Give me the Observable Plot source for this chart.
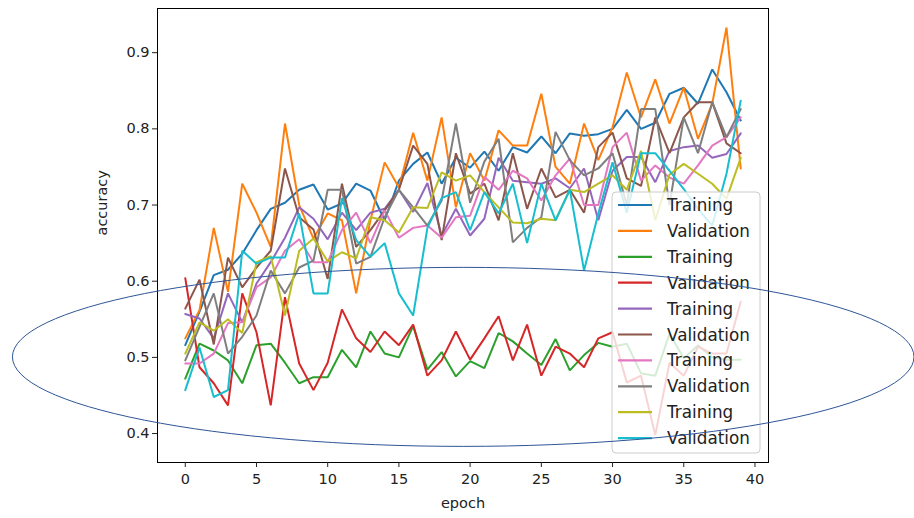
<!DOCTYPE html>
<html><head><meta charset="utf-8">
<script src="https://cdn.jsdelivr.net/npm/d3@7"></script>
<script src="https://cdn.jsdelivr.net/npm/@observablehq/plot@0.6"></script>
<style>
html,body{margin:0;padding:0;background:#fff;}
#chart{position:relative;width:914px;height:518px;overflow:hidden;}
</style>
</head><body><div id="chart"></div>
<script>
// ---- data ----
const seriesLabels = ["Training","Validation","Training","Validation","Training","Validation","Training","Validation","Training","Validation"];
const seriesColors = ["#1f77b4","#ff7f0e","#2ca02c","#d62728","#9467bd","#8c564b","#e377c2","#7f7f7f","#bcbd22","#17becf"];
const xTicks = [0,5,10,15,20,25,30,35,40];
const yTicks = [0.4,0.5,0.6,0.7,0.8,0.9];

const train1 = [0.516,0.56,0.608,0.615,0.636,0.667,0.695,0.703,0.72,0.727,0.694,0.702,0.728,0.719,0.68,0.732,0.754,0.769,0.728,0.762,0.749,0.77,0.745,0.776,0.769,0.79,0.768,0.794,0.791,0.793,0.80,0.825,0.80,0.808,0.846,0.854,0.833,0.878,0.848,0.811];
const valid1 = [0.525,0.562,0.67,0.586,0.728,0.69,0.645,0.807,0.70,0.656,0.689,0.68,0.584,0.68,0.756,0.723,0.795,0.732,0.815,0.697,0.768,0.732,0.798,0.778,0.778,0.846,0.75,0.728,0.807,0.759,0.802,0.874,0.815,0.865,0.807,0.854,0.787,0.833,0.933,0.748];
const train2 = [0.472,0.518,0.509,0.496,0.466,0.516,0.518,0.493,0.466,0.474,0.474,0.51,0.487,0.534,0.505,0.50,0.541,0.484,0.507,0.475,0.495,0.486,0.532,0.521,0.505,0.49,0.524,0.483,0.503,0.519,0.514,0.518,0.479,0.476,0.531,0.499,0.516,0.50,0.497,0.497];
const valid2 = [0.604,0.487,0.466,0.437,0.584,0.533,0.437,0.579,0.492,0.457,0.493,0.563,0.525,0.507,0.534,0.516,0.543,0.476,0.496,0.534,0.497,0.525,0.554,0.496,0.543,0.476,0.514,0.505,0.487,0.525,0.533,0.467,0.476,0.398,0.493,0.476,0.514,0.505,0.505,0.573];
const train3 = [0.557,0.551,0.525,0.584,0.546,0.597,0.625,0.657,0.697,0.682,0.655,0.69,0.667,0.69,0.695,0.72,0.691,0.729,0.66,0.695,0.66,0.682,0.762,0.732,0.73,0.728,0.735,0.722,0.748,0.68,0.745,0.763,0.763,0.73,0.771,0.776,0.778,0.762,0.767,0.794];
const valid3 = [0.564,0.602,0.517,0.631,0.592,0.618,0.64,0.748,0.684,0.668,0.603,0.728,0.645,0.667,0.693,0.72,0.778,0.754,0.654,0.768,0.715,0.728,0.68,0.768,0.695,0.748,0.71,0.72,0.69,0.776,0.795,0.735,0.725,0.815,0.768,0.815,0.835,0.835,0.781,0.768];
const train4 = [0.492,0.492,0.505,0.545,0.546,0.592,0.605,0.64,0.655,0.625,0.625,0.667,0.69,0.65,0.693,0.657,0.67,0.673,0.657,0.684,0.686,0.737,0.72,0.745,0.735,0.706,0.739,0.761,0.70,0.70,0.776,0.795,0.732,0.752,0.736,0.728,0.752,0.778,0.789,0.815];
const valid4 = [0.496,0.54,0.584,0.505,0.527,0.555,0.614,0.584,0.618,0.627,0.72,0.72,0.623,0.632,0.684,0.72,0.697,0.673,0.706,0.807,0.703,0.757,0.787,0.651,0.67,0.684,0.796,0.759,0.739,0.748,0.768,0.70,0.826,0.826,0.70,0.815,0.768,0.835,0.789,0.826];
const train5 = [0.505,0.546,0.535,0.55,0.532,0.625,0.633,0.555,0.64,0.656,0.626,0.638,0.63,0.684,0.68,0.664,0.697,0.696,0.743,0.732,0.739,0.717,0.697,0.677,0.676,0.682,0.68,0.72,0.717,0.728,0.739,0.72,0.771,0.68,0.74,0.754,0.741,0.728,0.708,0.762];
const valid5 = [0.457,0.513,0.448,0.457,0.64,0.623,0.631,0.631,0.689,0.584,0.584,0.709,0.654,0.632,0.65,0.584,0.555,0.67,0.709,0.717,0.667,0.717,0.689,0.728,0.65,0.728,0.68,0.72,0.614,0.689,0.756,0.69,0.768,0.768,0.745,0.721,0.695,0.673,0.741,0.837];

// annotation ellipse (data units)
const ellipseCenterEpoch = 19.55, ellipseCenterAcc = 0.5, ellipseRxEpochs = 31.65, ellipseRyAcc = 0.1175;

const allSeries = [train1,valid1,train2,valid2,train3,valid3,train4,valid4,train5,valid5];
const ids = allSeries.map((_, i) => i);
const rows = allSeries.flatMap((vals, i) => vals.map((v, e) => ({id: i, epoch: e, acc: v})));

const font = "DejaVu Sans";
const chart = Plot.plot({
  width: 914, height: 518,
  marginLeft: 157, marginRight: 146, marginTop: 8, marginBottom: 56,
  style: {fontFamily: font, fontSize: "14.5px", color: "black", background: "white"},
  x: {domain: [-1.95, 40.95]},
  y: {domain: [0.362, 0.958]},
  color: {type: "ordinal", domain: ids, range: seriesColors},
  marks: [
    Plot.lineY(rows, {x: "epoch", y: "acc", z: "id", stroke: "id", strokeWidth: 2, strokeLinejoin: "miter"}),
    Plot.frame({stroke: "black", strokeWidth: 1}),
    Plot.axisX({ticks: xTicks, tickSize: 5, tickPadding: 6, label: null, fontSize: 14.5, color: "#222"}),
    Plot.axisY({ticks: yTicks, tickSize: 5, tickPadding: 3, label: null, tickFormat: d3.format(".1f"), fontSize: 14.5, color: "#222"}),
    Plot.text(["epoch"], {frameAnchor: "bottom", dy: 45, fontSize: 14.5, fill: "#222"}),
    Plot.text(["accuracy"], {frameAnchor: "left", dx: -55, rotate: -90, fontSize: 14.5, fill: "#222"})
  ]
});
document.getElementById("chart").appendChild(chart);

const svg = d3.select(chart);
const xs = chart.scale("x"), ys = chart.scale("y");
const frameRight = xs.apply(40.95), frameBottom = ys.apply(0.362);

// legend
const lgW = 148, lgH = 261, lgX = frameRight - 8 - lgW, lgY = frameBottom - 9 - lgH;
const lg = svg.append("g").attr("font-family", font).attr("font-size", 16.8).attr("text-anchor", "start");
lg.append("rect").attr("x", lgX).attr("y", lgY).attr("width", lgW).attr("height", lgH)
  .attr("rx", 4).attr("fill", "white").attr("fill-opacity", 0.8).attr("stroke", "#cccccc").attr("stroke-width", 1);
seriesLabels.forEach((lab, i) => {
  const cy = lgY + 13 + i * 25.9;
  lg.append("line").attr("x1", lgX + 6).attr("x2", lgX + 40).attr("y1", cy).attr("y2", cy)
    .attr("stroke", seriesColors[i]).attr("stroke-width", 2.2);
  lg.append("text").attr("x", lgX + 55).attr("y", cy).attr("dy", "0.36em").attr("fill", "#222").text(lab);
});

// annotation ellipse
const cx = xs.apply(ellipseCenterEpoch), cy = ys.apply(ellipseCenterAcc);
const rx = xs.apply(ellipseCenterEpoch + ellipseRxEpochs) - cx;
const ry = cy - ys.apply(ellipseCenterAcc + ellipseRyAcc);
svg.append("ellipse").attr("cx", cx).attr("cy", cy).attr("rx", rx).attr("ry", ry)
  .attr("fill", "none").attr("stroke", "#2f5597").attr("stroke-width", 1);
</script>
</body></html>
